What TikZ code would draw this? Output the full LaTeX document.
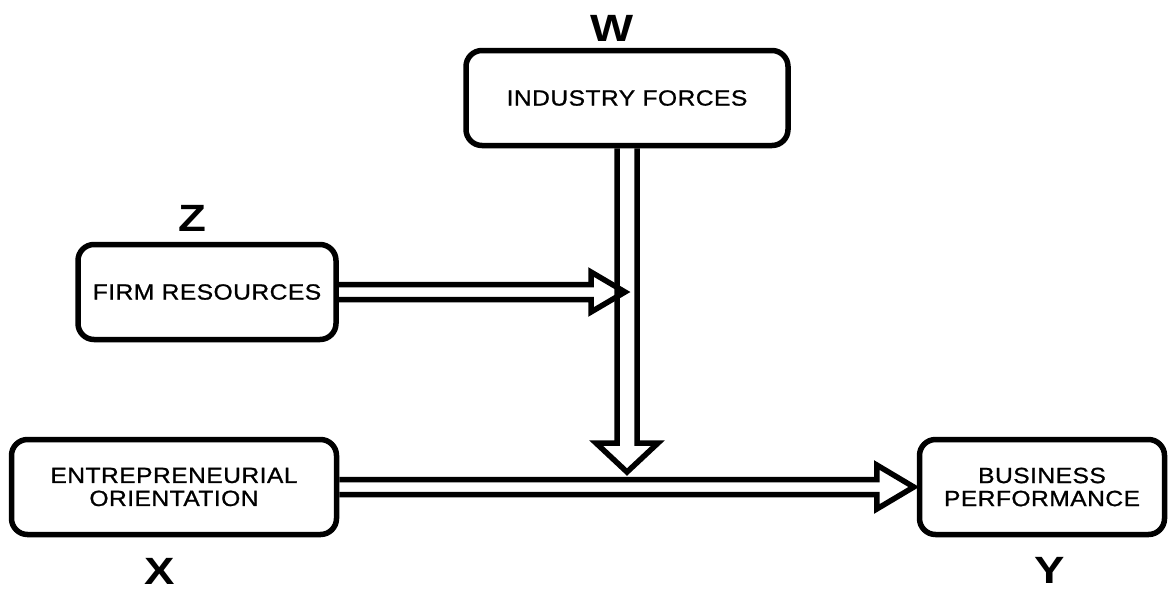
\documentclass[tikz,border=0pt]{standalone}
\usepackage{fontspec}
\setmainfont{Liberation Sans}
\newfontfamily\boxfont[FakeStretch=1.12, LetterSpace=2, FakeBold=0.9]{Liberation Sans}
\newfontfamily\varfont[FakeStretch=1.2]{Liberation Sans}
\usetikzlibrary{positioning}

\tikzset{
  factor/.style={draw, line width=5.5pt, rounded corners=16pt,
    minimum width=#1, minimum height=95pt, inner sep=0pt, align=center,
    font=\boxfont\fontsize{22}{23}\selectfont},
  varname/.style={inner sep=0pt, font=\varfont\bfseries\fontsize{38}{40}\selectfont},
  hollow/.style={draw, line width=5.5pt, line join=miter},
}

\begin{document}
\begin{tikzpicture}[x=1pt,y=-1pt]
      \useasboundingbox (0,0) rectangle (1169,590);
      % boxes
      \node[factor=322pt] (ind) at (627,98) {INDUSTRY FORCES};
      \node[factor=258pt] (fr) at (207,292) {FIRM RESOURCES};
      \node[factor=325pt] (eo) at (174,487) {ENTREPRENEURIAL\\ORIENTATION};
      \node[factor=245pt] (bp) at (1042,487) {BUSINESS\\PERFORMANCE};
      % variable letters
      \node[varname] (w) at (612,28) {W};
      \node[varname] (z) at (192,218) {Z};
      \node[varname] (x) at (160,571) {X};
      \node[varname] (y) at (1050,570) {Y};
      % arrow tips
      \path (ind.south |- fr.east) ++(-2,0) coordinate (zt);
      \path (ind.south |- eo.east) ++(0,-15) coordinate (wt);
      \coordinate (yt) at ([xshift=-3pt]bp.west);
      \begin{scope}[hollow]
        \draw ([yshift=7.5pt]eo.east) -- ([xshift=-37pt,yshift=7.5pt]yt)
          -- ([xshift=-37pt,yshift=22pt]yt) -- (yt)
          -- ([xshift=-37pt,yshift=-22pt]yt) -- ([xshift=-37pt,yshift=-7.5pt]yt)
          -- ([yshift=-7.5pt]eo.east);
        \draw ([yshift=7.5pt]fr.east) -- ([xshift=-34pt,yshift=7.5pt]zt)
          -- ([xshift=-34pt,yshift=20pt]zt) -- (zt)
          -- ([xshift=-34pt,yshift=-20pt]zt) -- ([xshift=-34pt,yshift=-7.5pt]zt)
          -- ([yshift=-7.5pt]fr.east);
        \draw ([xshift=-10pt]ind.south) -- ([xshift=-10pt,yshift=29pt]wt)
          -- ([xshift=-31pt,yshift=29pt]wt) -- (wt)
          -- ([xshift=31pt,yshift=29pt]wt) -- ([xshift=10pt,yshift=29pt]wt)
          -- ([xshift=10pt]ind.south);
      \end{scope}
    \end{tikzpicture}
\end{document}
